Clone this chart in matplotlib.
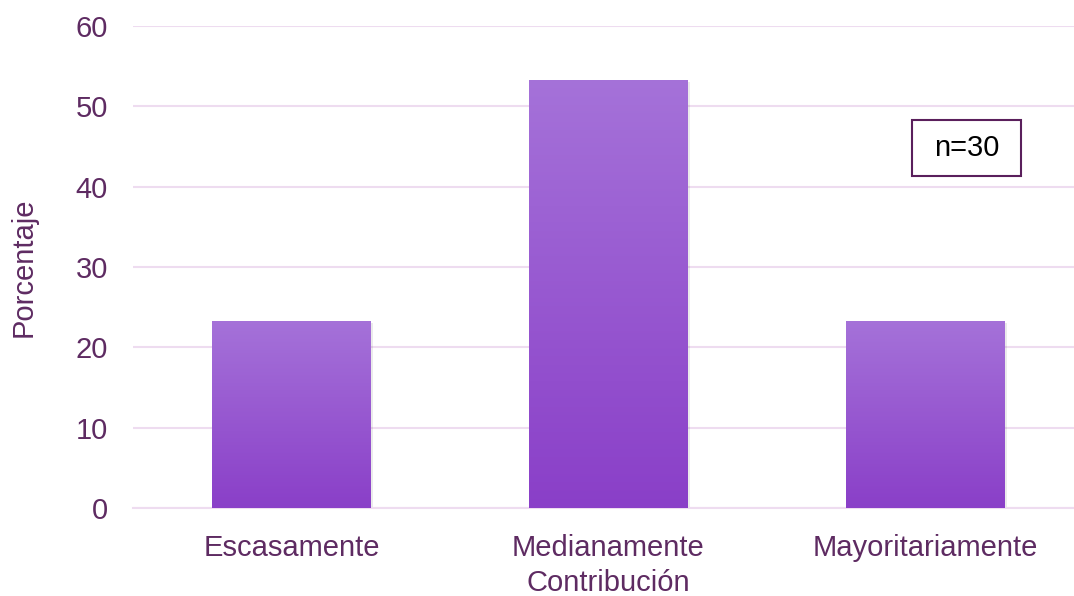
import numpy as np
import matplotlib.pyplot as plt
from matplotlib.colors import LinearSegmentedColormap
from matplotlib.patches import Rectangle

plt.rcParams["font.family"] = ["Liberation Sans", "DejaVu Sans"]

categories = ["Escasamente", "Medianamente", "Mayoritariamente"]
percentages = [23.33, 53.33, 23.33]
n_total = 30

text_color = "#5E2B62"
grid_color = "#EEDCF0"
bar_cmap = LinearSegmentedColormap.from_list("bar", ["#8A3FC8", "#A572D9"])

fig = plt.figure(figsize=(10.74, 5.96), dpi=100)
ax = fig.add_axes([133 / 1074, 88 / 596, 951 / 1074, 482 / 596])

x = np.arange(len(categories))
width = 0.5
grad = np.linspace(0, 1, 256).reshape(-1, 1)
for xi, val in zip(x, percentages):
    # faint shadow
    ax.bar(xi + 0.006, val, width=width, bottom=-0.25, color="#000000", alpha=0.08, zorder=2)
    bar = ax.bar(xi, val, width=width, color="none", zorder=3)[0]
    img = ax.imshow(grad, cmap=bar_cmap, origin="lower", aspect="auto",
                    extent=(xi - width / 2, xi + width / 2, 0, val), zorder=3)
    img.set_clip_path(bar)

ax.set_xlim(-0.5, len(categories) - 0.5)
ax.set_ylim(0, 60)
ax.set_yticks(range(0, 61, 10))
ax.set_xticks(x)
ax.set_xticklabels(categories)
ax.yaxis.grid(True, color=grid_color, linewidth=1.5, zorder=0)
ax.set_axisbelow(True)
for side in ["top", "right", "left"]:
    ax.spines[side].set_visible(False)
ax.spines["bottom"].set_color(grid_color)
ax.spines["bottom"].set_linewidth(1.5)
ax.tick_params(axis="both", length=0, labelsize=21, labelcolor=text_color)
ax.tick_params(axis="y", pad=18)
ax.tick_params(axis="x", pad=19)
ax.set_xlabel("Contribución", fontsize=21, color=text_color, labelpad=5)
ax.set_ylabel("Porcentaje", fontsize=21, color=text_color, labelpad=27)

ax.add_patch(Rectangle((1.957, 41.3), 0.344, 7.0, facecolor="white",
                       edgecolor="#5A1F5C", linewidth=1.5, zorder=5))
ax.text(2.129, 44.8, f"n={n_total}", ha="center", va="center",
        fontsize=21, color="black", zorder=6)

fig.savefig("out.png", dpi=100)
